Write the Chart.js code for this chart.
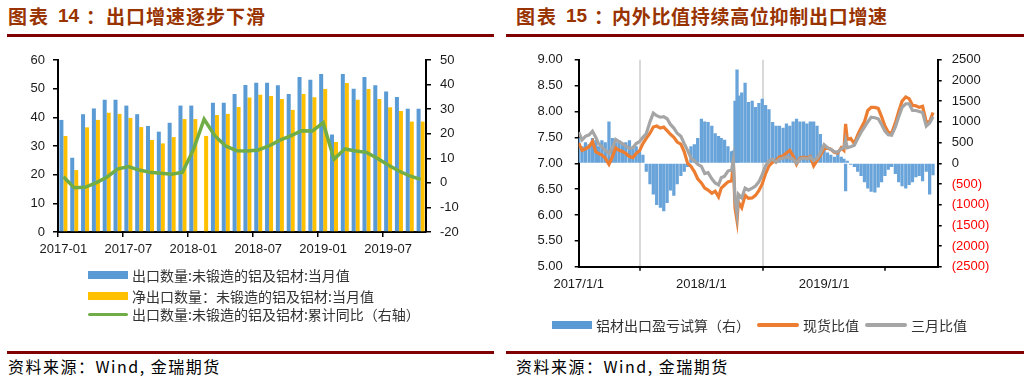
<!DOCTYPE html>
<html><head><meta charset="utf-8">
<script src="https://cdn.jsdelivr.net/npm/chart.js@4.4.1/dist/chart.umd.min.js"></script>
<style>
body{margin:0;width:1032px;height:380px;background:#fff;position:relative;overflow:hidden;font-family:"Noto Sans CJK SC",sans-serif;}
.title{position:absolute;top:6px;height:22px;font-size:19px;line-height:20px;font-weight:bold;color:#993300;white-space:nowrap;}
.title span,.title b{position:absolute;top:0;}
.title b{font-family:"Liberation Sans",Arial,sans-serif;font-size:19px;}
.rule{position:absolute;height:3px;background:#800000;}
.src{position:absolute;top:356px;font-size:16px;line-height:20px;color:#000;white-space:nowrap;letter-spacing:1.5px;}
.cw{position:absolute;top:40px;width:516px;height:300px;}
.leg{position:absolute;font-size:14px;line-height:20px;color:#333;white-space:nowrap;height:20px;}
.sw{position:absolute;}
.lt{position:absolute;top:0;}
</style></head><body>
<div class="title" style="left:8px"><span style="left:0;letter-spacing:2px">图表</span><b style="left:50px">14</b><span style="left:78px">：</span><span style="left:98px;letter-spacing:1px">出口增速逐步下滑</span></div>
<div class="title" style="left:516px"><span style="left:0;letter-spacing:2px">图表</span><b style="left:50px">15</b><span style="left:78px">：</span><span style="left:96px;letter-spacing:0.7px">内外比值持续高位抑制出口增速</span></div>
<div class="rule" style="left:7px;width:487px;top:34px"></div>
<div class="rule" style="left:506px;width:518px;top:34px"></div>
<div class="rule" style="left:7px;width:487px;top:351px"></div>
<div class="rule" style="left:506px;width:518px;top:351px"></div>
<div class="src" style="left:8px">资料来源：Wind, 金瑞期货</div>
<div class="src" style="left:516px">资料来源：Wind, 金瑞期货</div>
<div class="cw" style="left:0"><canvas id="cl" width="516" height="300"></canvas></div>
<div class="cw" style="left:516px"><canvas id="cr" width="516" height="300"></canvas></div>
<script>
// ---------- Left chart data ----------
const leftMonths = ['2017-01','2017-02','2017-03','2017-04','2017-05','2017-06','2017-07','2017-08','2017-09','2017-10','2017-11','2017-12',
  '2018-01','2018-02','2018-03','2018-04','2018-05','2018-06','2018-07','2018-08','2018-09','2018-10','2018-11','2018-12',
  '2019-01','2019-02','2019-03','2019-04','2019-05','2019-06','2019-07','2019-08','2019-09','2019-10'];
const exportQty = [39.1,25.9,41.1,43.1,46.1,46.1,44.1,41.1,37.0,35.0,38.1,44.1,
  44.1,null,45.1,45.1,48.1,51.3,52.1,52.1,51.2,48.1,54.1,53.1,
  55.1,34.0,55.1,50.0,54.1,51.2,49.0,47.1,43.0,43.0];
const netExportQty = [33.5,21.6,36.5,39.1,41.6,41.2,39.8,36.6,32.1,30.9,33.1,39.4,
  39.4,33.5,40.8,41.2,43.6,46.9,47.9,47.4,46.4,42.6,48.1,47.0,
  49.9,31.4,52.0,46.1,49.9,46.4,43.5,42.2,38.5,38.5];
const cumYoY = [2.5,-2.0,-1.8,0.0,2.3,5.6,6.6,5.2,4.3,3.9,3.5,4.3,
  13.4,25.9,19.1,15.0,13.1,13.0,13.4,15.0,17.4,19.1,21.2,21.1,
  24.5,9.6,13.8,13.0,12.4,10.0,7.3,4.8,2.8,1.4];
const leftSeriesNames = ['出口数量:未锻造的铝及铝材:当月值','净出口数量：未锻造的铝及铝材:当月值','出口数量:未锻造的铝及铝材:累计同比（右轴）'];

// ---------- Right chart data ----------
const rDates = [
 '2017-01-01','2017-01-11','2017-01-21','2017-02-01','2017-02-11','2017-02-21','2017-03-01','2017-03-11','2017-03-21',
 '2017-04-01','2017-04-11','2017-04-21','2017-05-01','2017-05-11','2017-05-21','2017-06-01','2017-06-11','2017-06-21',
 '2017-07-01','2017-07-11','2017-07-21','2017-08-01','2017-08-11','2017-08-21','2017-09-01','2017-09-11','2017-09-21',
 '2017-10-01','2017-10-11','2017-10-21','2017-11-01','2017-11-11','2017-11-21','2017-12-01','2017-12-11','2017-12-21',
 '2018-01-01','2018-01-11','2018-01-21','2018-02-01','2018-02-11','2018-02-21','2018-03-01','2018-03-11','2018-03-21',
 '2018-04-01','2018-04-06','2018-04-11','2018-04-17','2018-04-21','2018-05-01','2018-05-11','2018-05-21','2018-06-01','2018-06-11','2018-06-21',
 '2018-07-01','2018-07-11','2018-07-21','2018-08-01','2018-08-11','2018-08-21','2018-09-01','2018-09-11','2018-09-21',
 '2018-10-01','2018-10-11','2018-10-21','2018-11-01','2018-11-11','2018-11-21','2018-12-01','2018-12-11','2018-12-21',
 '2019-01-01','2019-01-11','2019-01-21','2019-02-01','2019-02-11','2019-02-21','2019-03-01','2019-03-06','2019-03-11','2019-03-21',
 '2019-04-01','2019-04-11','2019-04-21','2019-05-01','2019-05-11','2019-05-21','2019-06-01','2019-06-11','2019-06-21',
 '2019-07-01','2019-07-11','2019-07-21','2019-08-01','2019-08-11','2019-08-21','2019-09-01','2019-09-11','2019-09-21',
 '2019-10-01','2019-10-11','2019-10-21','2019-11-01','2019-11-11','2019-11-21'];
const spotRatio = [
 7.39,7.25,7.28,7.32,7.42,7.22,7.19,7.16,7.10,
 6.98,7.12,7.30,7.25,7.23,7.19,7.13,7.11,7.19,
 7.24,7.38,7.48,7.58,7.70,7.72,7.68,7.70,7.63,
 7.56,7.50,7.41,7.37,7.22,7.00,6.94,6.84,6.70,
 6.62,6.52,6.48,6.42,6.46,6.35,6.52,6.58,6.64,
 6.66,7.03,6.14,5.89,6.25,6.14,6.38,6.32,6.33,6.38,6.47,
 6.60,6.80,6.95,7.02,7.05,7.12,7.14,7.20,7.25,
 7.14,6.98,7.10,7.12,7.10,7.13,6.95,7.05,7.15,
 7.28,7.29,7.27,7.21,7.20,7.30,7.25,7.76,7.46,7.48,
 7.38,7.55,7.68,7.80,8.02,8.08,8.08,8.06,7.90,
 7.72,7.60,7.58,7.78,8.00,8.20,8.28,8.25,8.12,
 8.11,8.08,8.10,7.80,7.80,7.98];
const threeMonthRatio = [
 7.60,7.45,7.52,7.55,7.62,7.50,7.38,7.32,7.25,
 7.19,7.30,7.46,7.42,7.38,7.33,7.29,7.30,7.38,
 7.42,7.50,7.57,7.80,7.97,7.92,7.89,7.90,7.86,
 7.75,7.68,7.58,7.52,7.38,7.25,7.10,7.05,6.98,
 6.94,6.80,6.82,6.70,6.62,6.58,6.72,6.75,6.85,
 6.87,7.06,6.30,6.02,6.40,6.33,6.52,6.48,6.52,6.56,6.64,
 6.78,6.95,7.05,7.08,7.02,7.08,7.10,7.12,7.10,
 7.08,7.00,7.08,7.10,7.08,7.12,7.05,7.10,7.20,
 7.36,7.30,7.27,7.22,7.22,7.28,7.30,7.45,7.30,7.32,
 7.35,7.48,7.60,7.70,7.80,7.89,7.88,7.86,7.75,
 7.62,7.55,7.54,7.70,7.90,8.08,8.15,8.15,8.02,
 8.02,8.00,7.98,7.72,7.78,7.90];
const exportProfit = [
 600,400,500,450,600,550,400,550,500,
 1000,600,500,550,450,500,550,350,400,
 300,200,-200,-500,-750,-1000,-1070,-1150,-950,
 -650,-780,-500,-300,-200,-80,400,450,600,
 1070,1000,990,900,714,650,600,557,400,
 280,300,1500,2260,1630,1700,1940,1470,1500,1350,1450,
 1550,1400,1300,990,900,900,850,950,900,
 1000,1070,1000,1000,950,1000,1000,900,700,
 360,250,200,150,280,150,100,-670,50,-30,
 -80,-200,-300,-450,-600,-680,-700,-580,-450,
 -300,-150,-80,-250,-450,-550,-600,-520,-450,
 -330,-300,-430,-200,-750,-280];
const rXTickDates = ['2017-01-01','2018-01-01','2019-01-01'];
const rXTickLabels = ['2017/1/1','2018/1/1','2019/1/1'];
const rightSeriesNames = ['铝材出口盈亏试算（右）','现货比值','三月比值'];

const NUMFONT = {family:'"Liberation Sans", Arial, sans-serif', size:13};
const TXT = '#1a1a1a';
const day0 = Date.UTC(2017,0,1);
const toDay = s => (Date.parse(s + 'T00:00:00Z') - day0) / 86400000;

// ---------- Left chart ----------
const colL = ['#5B9BD5','#FFC000','#70AD47'];
new Chart(document.getElementById('cl'), {
  type:'bar',
  data:{labels:leftMonths, datasets:[
    {type:'line', label:leftSeriesNames[2], data:cumYoY, yAxisID:'y1', borderColor:colL[2], borderWidth:3.5, pointRadius:0, tension:0, order:0},
    {label:leftSeriesNames[0], data:exportQty, yAxisID:'y', backgroundColor:colL[0], categoryPercentage:0.74, barPercentage:1, order:1},
    {label:leftSeriesNames[1], data:netExportQty, yAxisID:'y', backgroundColor:colL[1], categoryPercentage:0.74, barPercentage:1, order:1}
  ]},
  options:{
    responsive:false, animation:false,
    layout:{padding:{top:20,left:0,right:0,bottom:0}},
    plugins:{legend:{display:false}, tooltip:{enabled:false}},
    scales:{
      x:{grid:{drawOnChartArea:false, offset:true, tickLength:5, lineWidth:1.5,
            tickColor:c => (c.index !== undefined && c.index % 6 === 0) ? '#000' : 'rgba(0,0,0,0)'},
         border:{color:'#000', width:2},
         ticks:{autoSkip:false, maxRotation:0, padding:5, font:NUMFONT, color:TXT,
            callback:(v,i) => i % 6 === 0 ? leftMonths[i] : ''},
         afterFit:s => { s.height = 108; }},
      y:{position:'left', min:0, max:60,
         ticks:{stepSize:10, padding:8, font:NUMFONT, color:TXT},
         grid:{drawOnChartArea:false, tickLength:5, tickColor:'#000', lineWidth:1.5},
         border:{color:'#000', width:2},
         afterFit:s => { s.width = 58; }},
      y1:{position:'right', min:-20, max:50,
         ticks:{stepSize:10, padding:9, font:NUMFONT, color:TXT},
         grid:{drawOnChartArea:false, tickLength:5, tickColor:'#000', lineWidth:1.5},
         border:{color:'#000', width:2},
         afterFit:s => { s.width = 90; }}
    }
  }
});

// ---------- Right chart ----------
const colR = ['#5B9BD5','#ED7D31','#A5A5A5'];
const pts = arr => rDates.map((d,i) => ({x:toDay(d), y:arr[i]}));
new Chart(document.getElementById('cr'), {
  type:'bar',
  data:{datasets:[
    {type:'line', label:rightSeriesNames[2], data:pts(threeMonthRatio), yAxisID:'y', borderColor:colR[2], borderWidth:3.2, pointRadius:0, tension:0, order:0},
    {type:'line', label:rightSeriesNames[1], data:pts(spotRatio), yAxisID:'y', borderColor:colR[1], borderWidth:3.2, pointRadius:0, tension:0, order:1},
    {label:rightSeriesNames[0], data:pts(exportProfit), yAxisID:'y1', backgroundColor:'#68A3D9', barThickness:2.6, order:2}
  ]},
  options:{
    responsive:false, animation:false,
    layout:{padding:{top:16.7,left:0,right:0,bottom:0}},
    plugins:{legend:{display:false}, tooltip:{enabled:false}},
    scales:{
      x:{type:'linear', min:0, max:1068, offset:false,
         afterBuildTicks:s => { s.ticks = rXTickDates.map(d => ({value:toDay(d)})); },
         grid:{drawOnChartArea:true, lineWidth:2, tickLength:4, tickWidth:1.5, tickColor:'#000',
            color:c => (c.tick && c.tick.value > 0) ? '#D9D9D9' : 'rgba(0,0,0,0)'},
         border:{color:'#000', width:2},
         ticks:{autoSkip:false, maxRotation:0, padding:6, font:NUMFONT, color:TXT,
            callback:(v,i) => rXTickLabels[i]},
         afterFit:s => { s.height = 73.3; }},
      y:{position:'left', min:5, max:9,
         ticks:{stepSize:0.5, padding:12, font:NUMFONT, color:TXT, callback:v => Number(v).toFixed(2)},
         grid:{drawOnChartArea:false, tickLength:4, tickColor:'#000', lineWidth:1.5},
         border:{color:'#000', width:2},
         afterFit:s => { s.width = 62.7; }},
      y1:{position:'right', min:-2500, max:2500,
         ticks:{stepSize:500, padding:10, font:NUMFONT,
            color:c => (c.tick && c.tick.value < 0) ? '#FF0000' : TXT,
            callback:v => v < 0 ? '(' + (-v) + ')' : String(v)},
         grid:{drawOnChartArea:false, tickLength:4, tickColor:'#000', lineWidth:1.5},
         border:{color:'#000', width:2},
         afterFit:s => { s.width = 94.3; }}
    }
  }
});

// ---------- HTML legends ----------
function legItem(left, top, kind, color, text, swW) {
  const d = document.createElement('div');
  d.className = 'leg';
  d.style.left = left + 'px'; d.style.top = top + 'px';
  const s = document.createElement('div');
  s.className = 'sw';
  s.style.left = '0px'; s.style.width = swW + 'px'; s.style.background = color;
  if (kind === 'box') { s.style.top = '6px'; s.style.height = '8px'; }
  else { s.style.top = '8.5px'; s.style.height = '3.5px'; s.style.borderRadius = '2px'; }
  const t = document.createElement('span');
  t.className = 'lt'; t.style.left = (swW + 4) + 'px'; t.textContent = text;
  d.appendChild(s); d.appendChild(t);
  document.body.appendChild(d);
}
legItem(88, 265, 'box', colL[0], leftSeriesNames[0], 40);
legItem(88, 285.5, 'box', colL[1], leftSeriesNames[1], 40);
legItem(88, 304, 'line', colL[2], leftSeriesNames[2], 40);
legItem(552, 314.5, 'box', colR[0], rightSeriesNames[0], 40);
legItem(757, 314.5, 'line', colR[1], rightSeriesNames[1], 42);
legItem(865, 314.5, 'line', colR[2], rightSeriesNames[2], 42);
</script>
</body></html>
